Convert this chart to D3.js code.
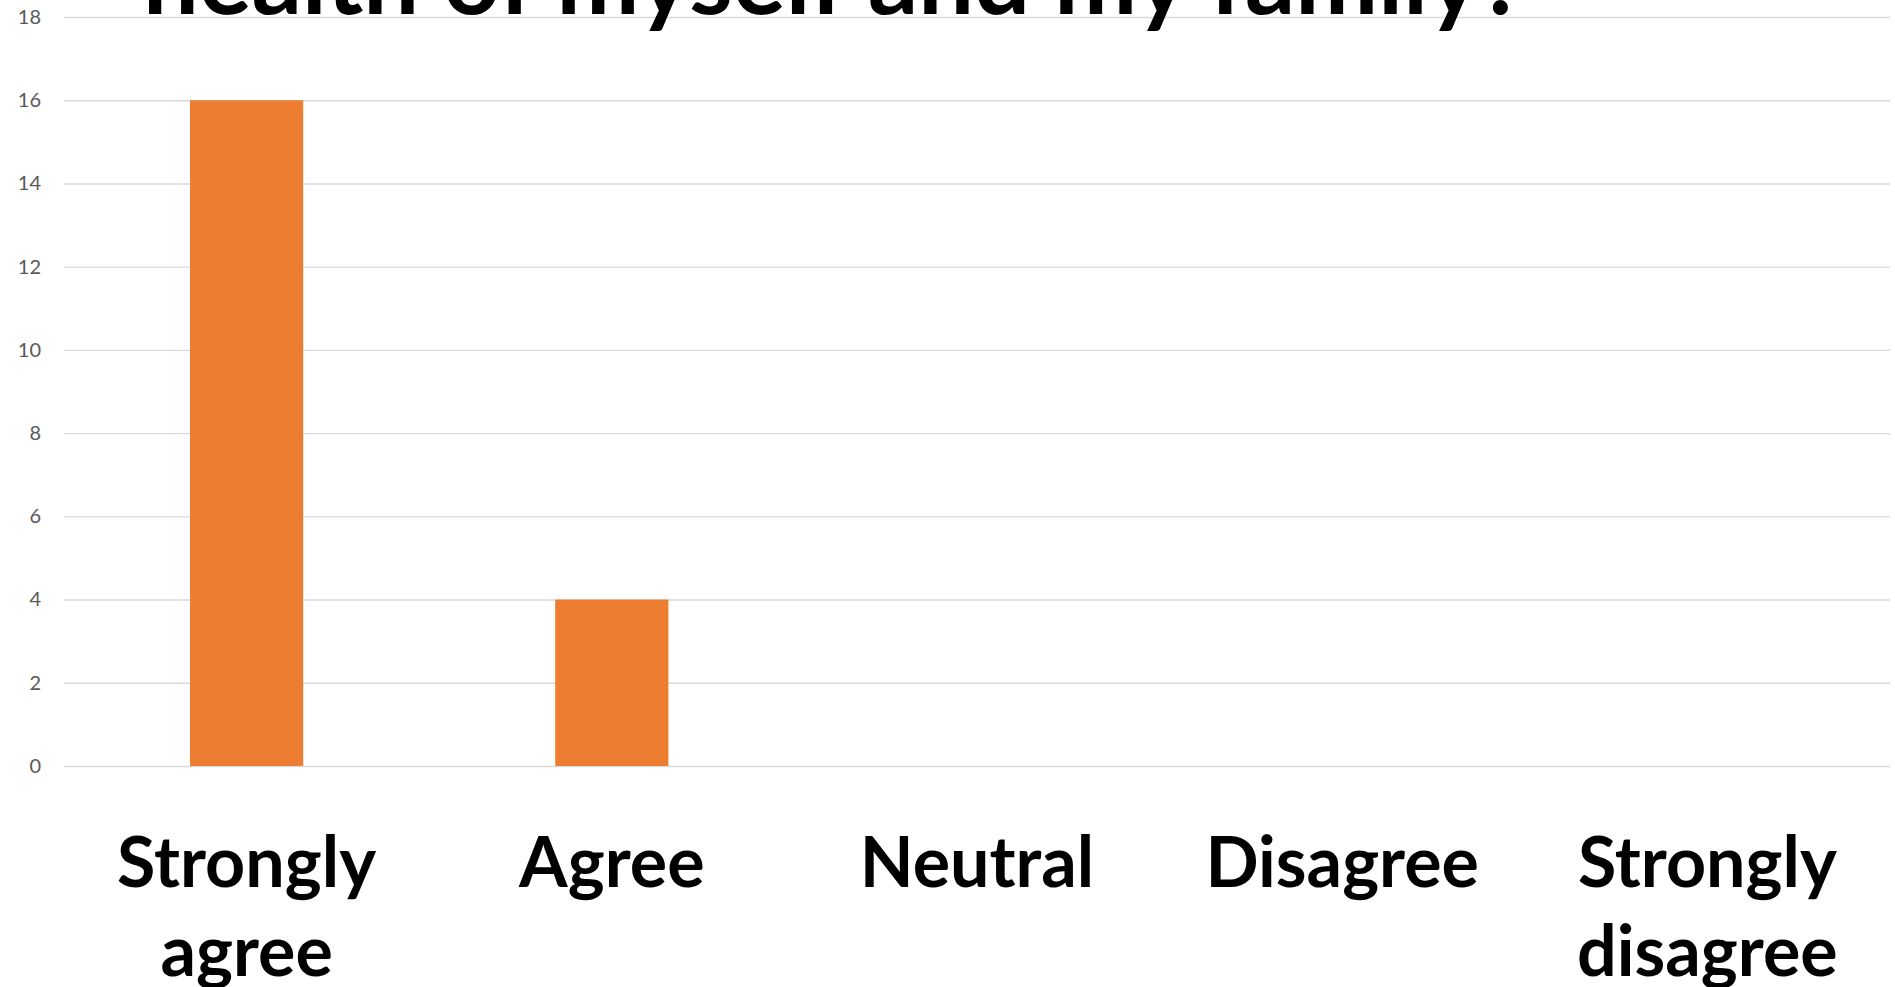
<!DOCTYPE html>
<html>
<head>
<meta charset="utf-8">
<script src="https://cdn.jsdelivr.net/npm/d3@7"></script>
<style>
  html, body { margin: 0; padding: 0; background: #ffffff; overflow: hidden; }
  svg { display: block; }
</style>
</head>
<body>
<svg id="chart" width="1895" height="987"></svg>
<script>
const titleText = "health of myself and my family?";
const categories = ["Strongly agree", "Agree", "Neutral", "Disagree", "Strongly disagree"];
const values = [16, 4, 0, 0, 0];
const yTicks = [0, 2, 4, 6, 8, 10, 12, 14, 16, 18];

const W = 1895, H = 987;
const margin = { left: 64, right: 5, top: 17, bottom: 221 };
const svg = d3.select("#chart");

const x = d3.scaleBand()
  .domain(categories)
  .range([margin.left, W - margin.right])
  .paddingInner(0.69)
  .paddingOuter(0.345);

const y = d3.scaleLinear()
  .domain([0, 18])
  .range([H - margin.bottom, margin.top]);

// gridlines + tick labels
const yAxis = d3.axisLeft(y)
  .tickValues(yTicks)
  .tickSize(-(W - margin.left - margin.right))
  .tickPadding(23)
  .tickFormat(d3.format("d"));

const gy = svg.append("g")
  .attr("transform", `translate(${margin.left},0)`)
  .call(yAxis);
gy.select(".domain").remove();
gy.selectAll(".tick line").attr("stroke", "#d9d9d9").attr("stroke-width", 1.4);
gy.selectAll(".tick text")
  .attr("fill", "#595959")
  .style("font-family", "Lato, 'Open Sans', sans-serif")
  .style("font-size", "20px");

// bars
svg.append("g").selectAll("rect")
  .data(categories.map((c, i) => ({ c, v: values[i] })))
  .join("rect")
  .attr("x", d => x(d.c))
  .attr("width", x.bandwidth())
  .attr("y", d => y(d.v))
  .attr("height", d => y(0) - y(d.v))
  .attr("fill", "#ED7D31");

// category labels with wrapping
const labelFont = "Lato, 'Open Sans', sans-serif";
const labelSize = 70;
const lineGap = 89;
const firstBaseline = 887;
const step = x.step();

const lg = svg.append("g");
categories.forEach(c => {
  const cx = x(c) + x.bandwidth() / 2;
  const t = lg.append("text")
    .attr("text-anchor", "middle")
    .attr("fill", "#000")
    .style("font-family", labelFont)
    .style("font-weight", "bold")
    .style("font-size", labelSize + "px");
  const words = c.split(" ");
  const lines = [];
  let cur = [];
  const probe = svg.append("text")
    .style("font-family", labelFont).style("font-weight", "bold").style("font-size", labelSize + "px");
  words.forEach(w => {
    const trial = cur.concat([w]).join(" ");
    probe.text(trial);
    if (probe.node().getComputedTextLength() > step && cur.length) {
      lines.push(cur.join(" "));
      cur = [w];
    } else {
      cur.push(w);
    }
  });
  lines.push(cur.join(" "));
  probe.remove();
  lines.forEach((ln, i) => {
    t.append("tspan").attr("x", cx).attr("y", firstBaseline + i * lineGap).text(ln);
  });
});

// title (partially cut at top, as in the reference)
svg.append("text")
  .attr("x", 143)
  .attr("y", 14)
  .attr("fill", "#000")
  .style("font-family", labelFont)
  .style("font-weight", "bold")
  .style("font-size", "99px")
  .text(titleText);
</script>
</body>
</html>
